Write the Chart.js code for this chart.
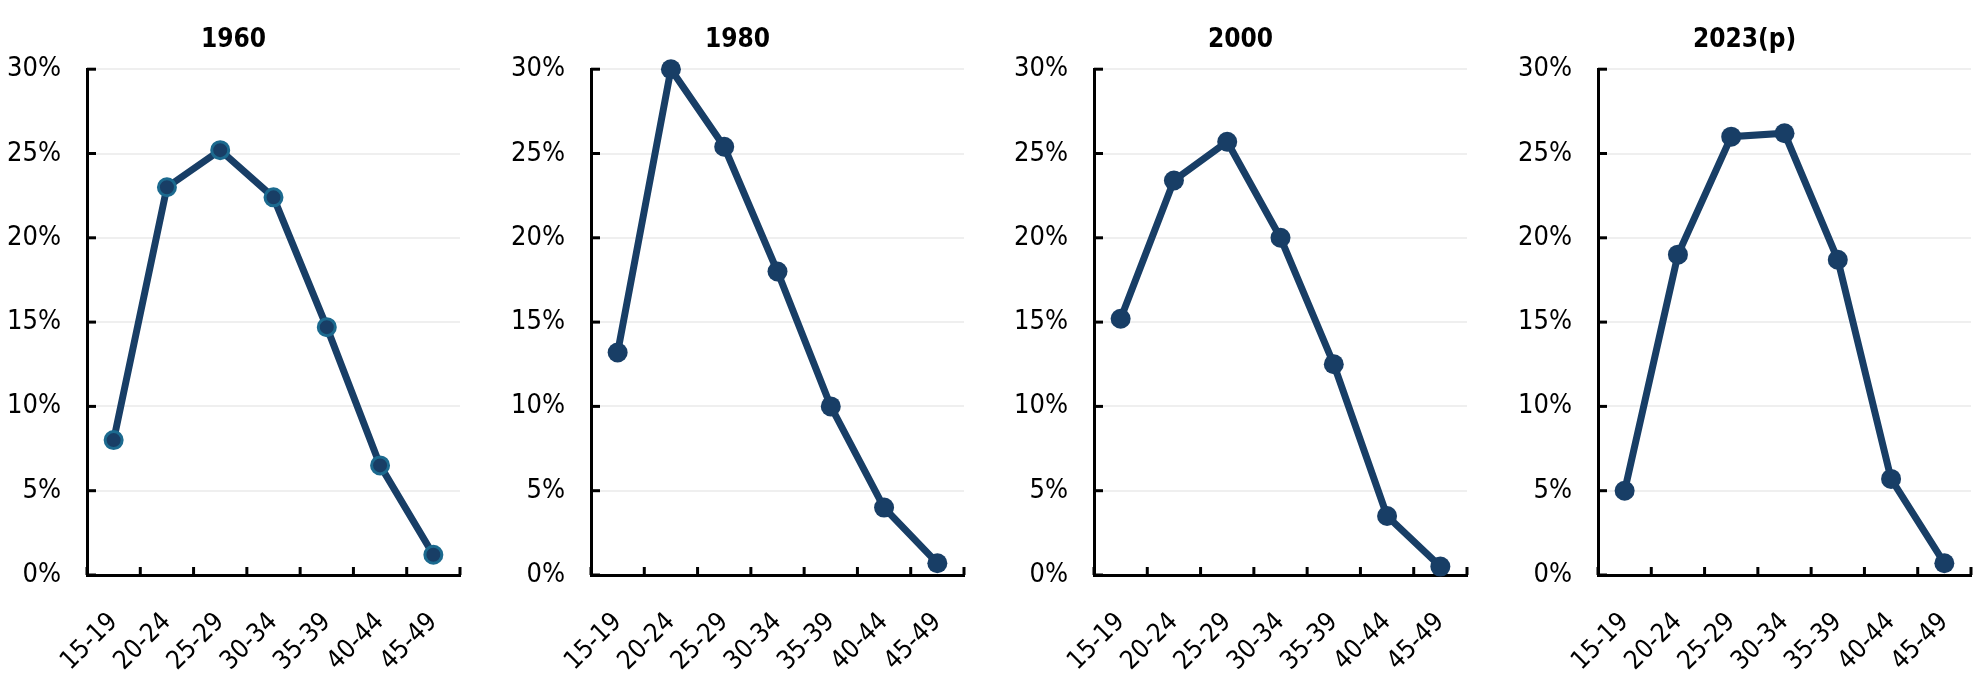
<!DOCTYPE html>
<html>
<head>
<meta charset="utf-8">
<script src="https://cdn.jsdelivr.net/npm/chart.js@4"></script>
<style>
  html, body { margin: 0; padding: 0; background: #fff; overflow: hidden; }
  #wrap { position: relative; width: 1981px; height: 687px; }
  .panel { position: absolute; top: 0; width: 466px; height: 687px; }
</style>
</head>
<body>
<div id="wrap"></div>
<script>
// age groups and share of births (%) per year
var ageGroups = ['15-19', '20-24', '25-29', '30-34', '35-39', '40-44', '45-49'];
var years = ['1960', '1980', '2000', '2023(p)'];
var values1960 = [8.0, 23.0, 25.2, 22.4, 14.7, 6.5, 1.2];
var values1980 = [13.2, 30.0, 25.4, 18.0, 10.0, 4.0, 0.7];
var values2000 = [15.2, 23.4, 25.7, 20.0, 12.5, 3.5, 0.5];
var values2023 = [5.0, 19.0, 26.0, 26.2, 18.7, 5.7, 0.7];
var yTicks = [0, 5, 10, 15, 20, 25, 30];

var allValues = [values1960, values1980, values2000, values2023];
var navy = '#183e66';
var fontFamily = '"DejaVu Sans Condensed", "Liberation Sans", Arial, sans-serif';

// small inward tick marks on both axes
var innerTicks = {
    id: 'innerTicks',
    afterDatasetsDraw: function(chart) {
        var ctx = chart.ctx;
        var x = chart.scales.x, y = chart.scales.y;
        var left = chart.chartArea.left, bottom = chart.chartArea.bottom;
        ctx.save();
        ctx.strokeStyle = '#000';
        ctx.lineWidth = 3;
        yTicks.forEach(function(t) {
            var py = y.getPixelForValue(t);
            ctx.beginPath();
            ctx.moveTo(left, py);
            ctx.lineTo(left + 9, py);
            ctx.stroke();
        });
        for (var i = 0; i <= ageGroups.length; i++) {
            var px = x.getPixelForValue(i - 0.5);
            ctx.beginPath();
            ctx.moveTo(px, bottom);
            ctx.lineTo(px, bottom - 8);
            ctx.stroke();
        }
        ctx.restore();
    }
};

years.forEach(function(year, i) {
    var div = document.createElement('div');
    div.className = 'panel';
    div.style.left = (7 + i * 503.5) + 'px';
    var canvas = document.createElement('canvas');
    div.appendChild(canvas);
    document.getElementById('wrap').appendChild(div);

    var first = i === 0;
    new Chart(canvas.getContext('2d'), {
        type: 'line',
        data: {
            labels: ageGroups,
            datasets: [{
                data: allValues[i],
                borderColor: navy,
                borderWidth: 7,
                backgroundColor: navy,
                pointRadius: first ? 8.5 : 10,
                pointBorderWidth: first ? 3 : 0,
                pointBorderColor: first ? '#1c6a8f' : navy,
                pointBackgroundColor: navy,
                tension: 0,
                clip: false
            }]
        },
        options: {
            responsive: true,
            maintainAspectRatio: false,
            animation: false,
            layout: { padding: { left: 0, right: 13, top: 0, bottom: 0 } },
            plugins: {
                legend: { display: false },
                tooltip: { enabled: false },
                title: {
                    display: true,
                    text: year,
                    color: '#000',
                    font: { family: fontFamily, size: 26, weight: 'bold' },
                    padding: { top: 25, bottom: 13 }
                }
            },
            scales: {
                x: {
                    offset: true,
                    grid: { display: false, drawTicks: false },
                    border: { color: '#000', width: 3 },
                    afterFit: function(scale) {
                        scale.height = 112;
                        scale.paddingLeft = 0;
                        scale.paddingRight = 0;
                    },
                    ticks: {
                        color: '#000',
                        autoSkip: false,
                        minRotation: 45,
                        maxRotation: 45,
                        padding: 32,
                        font: { family: fontFamily, size: 26 }
                    }
                },
                y: {
                    min: 0,
                    max: 30,
                    grid: { color: '#efefef', lineWidth: 2, drawTicks: false },
                    border: { color: '#000', width: 3 },
                    afterFit: function(scale) { scale.width = 80; },
                    afterBuildTicks: function(scale) {
                        scale.ticks = yTicks.map(function(v) { return { value: v }; });
                    },
                    ticks: {
                        color: '#000',
                        padding: 26,
                        font: { family: fontFamily, size: 27 },
                        callback: function(v) { return v + '%'; }
                    }
                }
            }
        },
        plugins: [innerTicks]
    });
});
</script>
</body>
</html>
